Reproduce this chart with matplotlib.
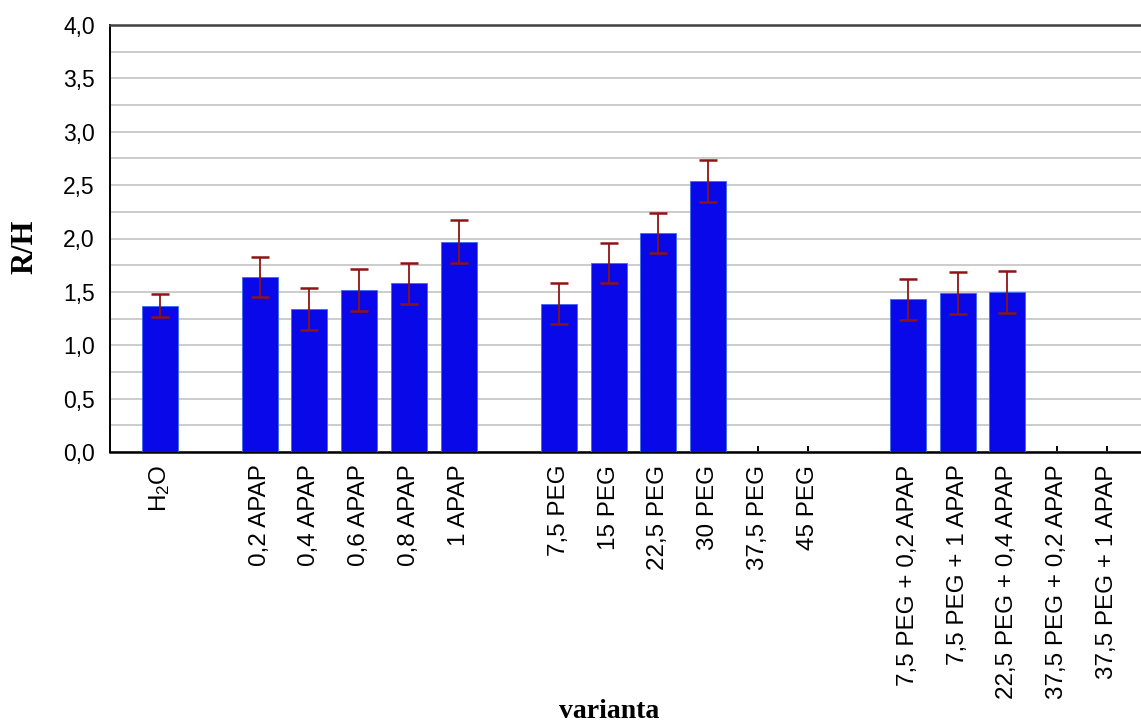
import numpy as np
import matplotlib
matplotlib.use("Agg")
import matplotlib.pyplot as plt
from matplotlib.ticker import MultipleLocator, FuncFormatter

plt.rcParams["mathtext.fontset"] = "custom"
plt.rcParams["mathtext.rm"] = "Liberation Sans"
plt.rcParams["mathtext.it"] = "Liberation Sans:italic"
plt.rcParams["mathtext.bf"] = "Liberation Sans:bold"

# Treatment groups (a blank slot separates consecutive groups)
group_control = [r"$\mathrm{H_2O}$"]
group_apap = ["0,2 APAP", "0,4 APAP", "0,6 APAP", "0,8 APAP", "1 APAP"]
group_peg = ["7,5 PEG", "15 PEG", "22,5 PEG", "30 PEG", "37,5 PEG", "45 PEG"]
group_mix = ["7,5 PEG + 0,2 APAP", "7,5 PEG + 1 APAP", "22,5 PEG + 0,4 APAP",
             "37,5 PEG + 0,2 APAP", "37,5 PEG + 1 APAP"]

# Mean R/H ratio and error half-width per variant (nan = no data)
mean_control = [1.37]
mean_apap = [1.64, 1.34, 1.52, 1.58, 1.97]
mean_peg = [1.39, 1.77, 2.05, 2.54, np.nan, np.nan]
mean_mix = [1.43, 1.49, 1.50, np.nan, np.nan]

err_control = [0.11]
err_apap = [0.185, 0.195, 0.195, 0.19, 0.20]
err_peg = [0.195, 0.19, 0.19, 0.20, np.nan, np.nan]
err_mix = [0.19, 0.195, 0.195, np.nan, np.nan]

groups = [group_control, group_apap, group_peg, group_mix]
means = [mean_control, mean_apap, mean_peg, mean_mix]
errs = [err_control, err_apap, err_peg, err_mix]

labels, values, errors, positions = [], [], [], []
pos = 0
for g, m, e in zip(groups, means, errs):
    for lab, v, er in zip(g, m, e):
        labels.append(lab)
        values.append(v)
        errors.append(er)
        positions.append(pos)
        pos += 1
    pos += 1  # empty slot between groups

values = np.array(values, dtype=float)
errors = np.array(errors, dtype=float)
positions = np.array(positions)

W, H = 1141, 722
fig = plt.figure(figsize=(W / 100, H / 100), dpi=100)
ax = fig.add_axes([110 / W, 1 - 452 / H, 1047 / W, 427 / H])

bar_color = "#0808E8"
err_color = "#8E1414"

ax.bar(positions, np.nan_to_num(values), width=0.72, color=bar_color,
       edgecolor="#3a6cf0", linewidth=0.6, zorder=3)
ok = ~np.isnan(values)
ax.errorbar(positions[ok], values[ok], yerr=errors[ok], fmt="none",
            ecolor=err_color, elinewidth=1.3, capsize=6.5, capthick=1.8,
            zorder=4)

ax.set_xlim(-1, 20)
ax.set_ylim(0, 4.0)

ax.yaxis.set_major_locator(MultipleLocator(0.5))
ax.yaxis.set_minor_locator(MultipleLocator(0.25))
ax.yaxis.set_major_formatter(FuncFormatter(lambda v, p: f"{v:.1f}".replace(".", ",")))
ax.grid(True, which="both", axis="y", color="#c8c8c8", linewidth=1.3, zorder=0)
ax.set_axisbelow(True)

ax.set_xticks(positions)
ax.set_xticklabels(labels, rotation=90, fontsize=17.5, family="Liberation Sans")
ax.tick_params(axis="x", direction="in", length=4, width=1.4, pad=9,
               color="black")
ax.tick_params(axis="y", which="both", length=0, pad=11,
               labelsize=16.5)
for t in ax.get_yticklabels():
    t.set_family("Liberation Sans")

ax.spines["right"].set_visible(False)
ax.spines["top"].set_color("#404040")
ax.spines["top"].set_linewidth(1.8)
ax.spines["bottom"].set_color("black")
ax.spines["bottom"].set_linewidth(1.8)
ax.spines["left"].set_color("black")
ax.spines["left"].set_linewidth(1.4)

fig.text(25 / W, 1 - 247 / H, "R/H", rotation=90, ha="center", va="center",
         fontsize=22, fontweight="bold", family="Liberation Serif")
fig.text(609 / W, 1 - 711 / H, "varianta", ha="center", va="center",
         fontsize=20, fontweight="bold", family="Liberation Serif")

fig.savefig("out.png", dpi=100, facecolor="white")
